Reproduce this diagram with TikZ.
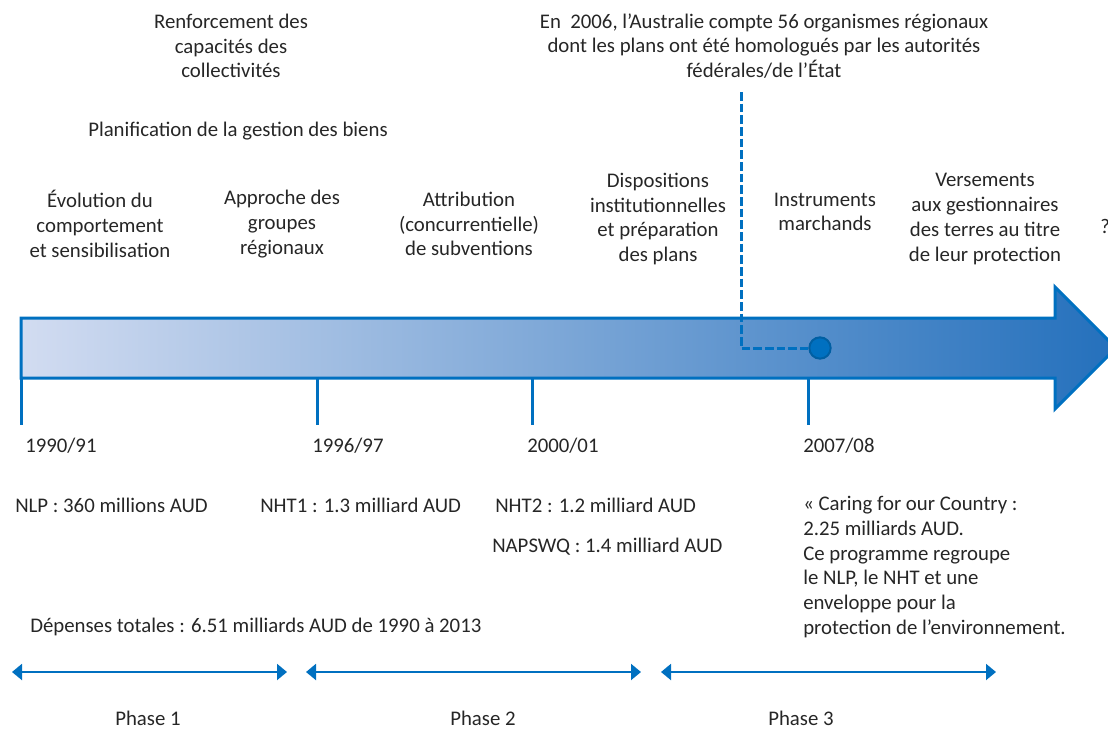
\documentclass[tikz,border=0pt]{standalone}
\usepackage{fontspec}
\setmainfont{Carlito}
\usetikzlibrary{arrows.meta}
\definecolor{axeblue}{RGB}{0,112,192}
\definecolor{paleblue}{RGB}{210,220,241}
\definecolor{deepblue}{RGB}{36,112,188}
\definecolor{txtgray}{RGB}{38,38,38}
\begin{document}
\begin{tikzpicture}[x=0.75pt,y=-0.75pt,
  every node/.style={font=\fontsize{15.6}{18.6}\selectfont,text=txtgray,inner sep=0pt},
  toplabel/.style={align=center},
  sumlabel/.style={anchor=west,align=left},
  tickline/.style={axeblue,line width=2.25pt},
  phasearrow/.style={axeblue,line width=1.5pt,{Triangle[length=7.5pt,width=12pt]}-{Triangle[length=7.5pt,width=12pt]}}]
  \useasboundingbox (0,0) rectangle (1108,732);
  \draw[left color=paleblue,right color=deepblue,draw=axeblue,line width=2.25pt,line join=miter]
    (21,318) -- (1055,318) -- (1055,287) -- (1116,348) -- (1055,409) -- (1055,378) -- (21,378) -- cycle;
  \foreach \x [count=\i] in {21,317,532,808}{
    \coordinate (tk\i) at (\x,378);
    \coordinate (tb\i) at (\x,425);
    \draw[tickline] (tk\i) -- (tb\i);
  }
  \node[circle,fill=axeblue,draw=axeblue!85!black,line width=1.5pt,minimum size=16pt] (mark) at (820,348) {};
  \coordinate (dtop) at (741,92);
  \coordinate (dbend) at (741,348);
  \draw[axeblue,line width=2.25pt,dash pattern=on 6.5pt off 2.25pt] (dtop) -- (dbend) -- (mark.west);

  \node[toplabel] (renf) at (231,46) {Renforcement des\\capacités des\\collectivités};
  \node[toplabel] (plan) at (238,131) {Planification de la gestion des biens};
  \node[toplabel] (evol) at (100,224) {Évolution du\\comportement\\et sensibilisation};
  \node[toplabel] (appr) at (282,224) {Approche des\\groupes\\régionaux};
  \node[toplabel] (attr) at (469,224) {Attribution\\(concurrentielle)\\de subventions};
  \node[toplabel] (disp) at (658,219) {Dispositions\\institutionnelles\\et préparation\\des plans};
  \node[toplabel] (inst) at (825,212) {Instruments\\marchands};
  \node[toplabel] (vers) at (985,219) {Versements\\aux gestionnaires\\des terres au titre\\de leur protection};
  \node[anchor=west] (qmark) at (1100,226) {?};
  \node[toplabel] (aus) at (764,46) {En~ 2006, l’Australie compte 56 organismes régionaux\\dont les plans ont été homologués par les autorités\\fédérales/de l’État};

  \node[sumlabel] (y1) at (25,446) {1990/91};
  \node[sumlabel] (y2) at (312,446) {1996/97};
  \node[sumlabel] (y3) at (527,446) {2000/01};
  \node[sumlabel] (y4) at (803,446) {2007/08};

  \node[sumlabel] (nlp) at (15,505) {NLP : 360 millions AUD};
  \node[sumlabel] (nht1) at (260,505) {NHT1 : 1.3 milliard AUD};
  \node[sumlabel] (nht2) at (495,505) {NHT2 : 1.2 milliard AUD};
  \node[sumlabel] (naps) at (492,547) {NAPSWQ : 1.4 milliard AUD};
  \node[sumlabel] (cfoc) at (803,567) {« Caring for our Country :\\2.25 milliards AUD.\\Ce programme regroupe\\le NLP, le NHT et une\\enveloppe pour la\\protection de l’environnement.};
  \node[sumlabel] (total) at (30,627) {Dépenses totales : 6.51 milliards AUD de 1990 à 2013};

  \coordinate (p1a) at (12,672);  \coordinate (p1b) at (287,672);
  \coordinate (p2a) at (306,672); \coordinate (p2b) at (641,672);
  \coordinate (p3a) at (661,672); \coordinate (p3b) at (996,672);
  \draw[phasearrow] (p1a) -- (p1b);
  \draw[phasearrow] (p2a) -- (p2b);
  \draw[phasearrow] (p3a) -- (p3b);
  \node (ph1) at (148,718) {Phase 1};
  \node (ph2) at (483,718) {Phase 2};
  \node (ph3) at (801,718) {Phase 3};
\end{tikzpicture}
\end{document}
